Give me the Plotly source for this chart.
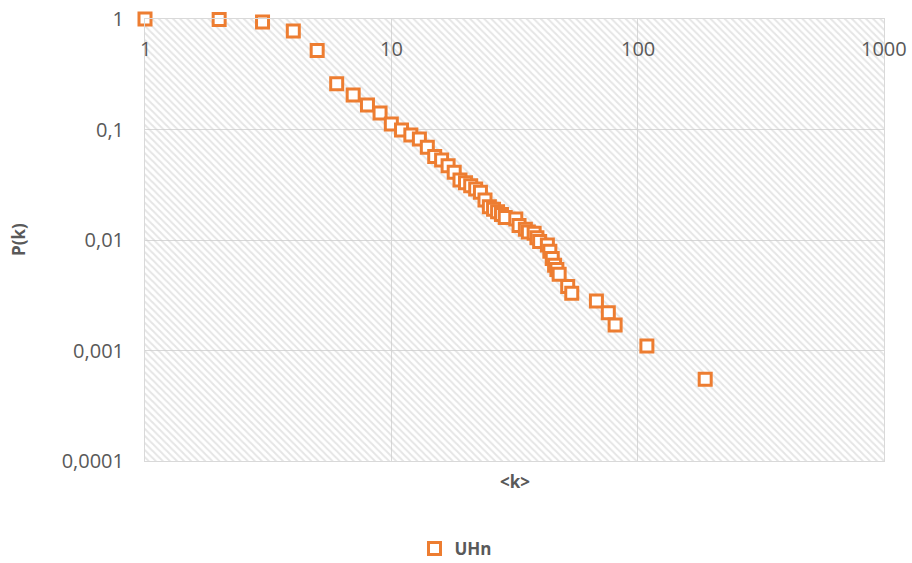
import math
import plotly.graph_objects as go

# ---- data ----
series_name = "UHn"
k_values = [1, 2, 3, 4, 5, 6, 7, 8, 9, 10, 11, 12, 13, 14, 15, 16, 17, 18, 19, 20,
            21, 22, 23, 24, 25, 26, 27, 28, 29, 32, 33, 35, 36, 38, 39, 40, 43, 44,
            45, 46, 47, 48, 52, 54, 68, 76, 81, 109, 188]
p_values = [1.0, 0.99, 0.94, 0.78, 0.52, 0.26, 0.205, 0.167, 0.141, 0.112, 0.099,
            0.089, 0.082, 0.069, 0.057, 0.053, 0.047, 0.041, 0.035, 0.033, 0.031,
            0.029, 0.027, 0.023, 0.020, 0.019, 0.018, 0.017, 0.016, 0.0155, 0.0135,
            0.0125, 0.0118, 0.0115, 0.0105, 0.0097, 0.009, 0.0079, 0.0068, 0.0059,
            0.0054, 0.0049, 0.0038, 0.0033, 0.0028, 0.0022, 0.0017, 0.0011, 0.00055]
x_tick_vals = [1, 10, 100, 1000]
x_tick_text = ["1", "10", "100", "1000"]
y_tick_vals = [1, 0.1, 0.01, 0.001, 0.0001]
y_tick_text = ["1", "0,1", "0,01", "0,001", "0,0001"]
x_limits = [1, 1000]
y_limits = [0.0001, 1]

GRID = "#d9d9d9"
TXT = "#595959"
ORANGE = "#ED7D31"
FONT = "Open Sans"

fig = go.Figure()

# hatched plot-area background
fig.add_trace(go.Scatter(
    x=[x_limits[0], x_limits[1], x_limits[1], x_limits[0], x_limits[0]],
    y=[y_limits[0], y_limits[0], y_limits[1], y_limits[1], y_limits[0]],
    mode="none", fill="toself", fillcolor="rgba(0,0,0,0)",
    fillpattern=dict(shape="\\", size=5, solidity=0.4, fgcolor="#cccccc",
                     bgcolor="rgba(0,0,0,0)"),
    showlegend=False, hoverinfo="skip"))

fig.add_trace(go.Scatter(
    x=k_values, y=p_values, mode="markers", name=series_name,
    marker=dict(symbol="square", size=12, color="white",
                line=dict(color=ORANGE, width=3)),
    cliponaxis=False))

annotations = [
    dict(text="<b>&lt;k&gt;</b>", x=0.5, xref="paper", y=0, yref="paper",
         yshift=-20, showarrow=False, font=dict(size=17, color=TXT, family=FONT),
         yanchor="middle"),
    dict(text="<b>P(k)</b>", x=0, xref="paper", xshift=-127, y=0.5, yref="paper",
         textangle=-90, showarrow=False, font=dict(size=17, color=TXT, family=FONT),
         xanchor="center"),
]
# x tick labels sit inside the plot, just below the top axis line
for v, t in zip(x_tick_vals, x_tick_text):
    annotations.append(dict(text=t, x=math.log10(v), xref="x", y=1, yref="paper",
                            yshift=-29, yanchor="middle", xanchor="center",
                            showarrow=False,
                            font=dict(size=20, color=TXT, family=FONT)))

fig.update_layout(
    width=912, height=563,
    margin=dict(l=145, r=28, t=19, b=102, autoexpand=False),
    paper_bgcolor="white", plot_bgcolor="white",
    font=dict(family=FONT, color=TXT, size=20),
    showlegend=True,
    legend=dict(orientation="h", xref="container", yref="container",
                x=0.5, xanchor="center", y=(563 - 549) / 563, yanchor="middle",
                font=dict(size=17, color=TXT, family=FONT, weight="bold"),
                itemwidth=30),
    annotations=annotations,
)

fig.update_xaxes(type="log", range=[0, 3], side="top", automargin=False,
                 tickvals=x_tick_vals, showticklabels=False,
                 showgrid=True, gridcolor=GRID, gridwidth=1,
                 showline=True, linecolor=GRID, mirror=True, zeroline=False,
                 ticks="")
fig.update_yaxes(type="log", range=[-4, 0], automargin=False,
                 tickvals=y_tick_vals, ticktext=y_tick_text,
                 ticklabelstandoff=16,
                 showgrid=True, gridcolor=GRID, gridwidth=1,
                 showline=True, linecolor=GRID, mirror=True, zeroline=False,
                 ticks="", tickfont=dict(size=20, color=TXT, family=FONT))

fig.write_html("out.html")
